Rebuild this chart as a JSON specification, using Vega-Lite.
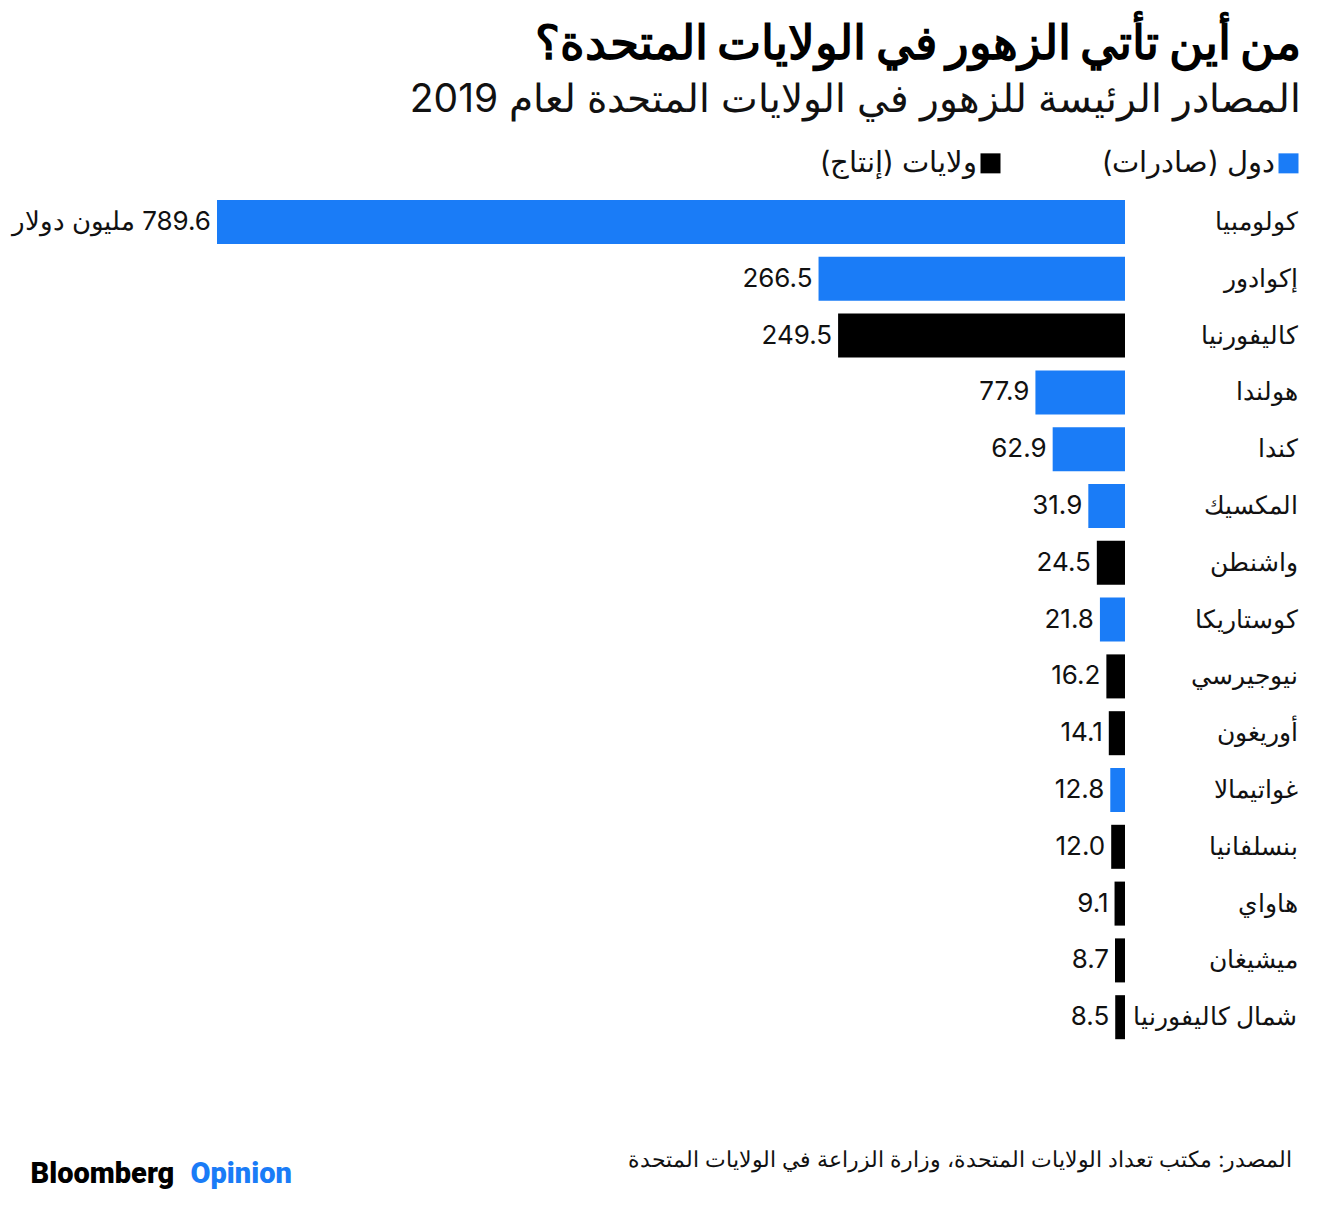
{
  "$schema": "https://vega.github.io/schema/vega-lite/v6.json",
  "width": 908,
  "height": 852,
  "autosize": "none",
  "padding": {"left": 217, "top": 193.6, "right": 201, "bottom": 163.4},
  "background": "white",
  "config": {"view": {"stroke": null}, "font": "Inter"},
  "title": {
    "text": "من أين تأتي الزهور في الولايات المتحدة؟",
    "subtitle": "المصادر الرئيسة للزهور في الولايات المتحدة لعام 2019",
    "anchor": "end",
    "frame": "group",
    "dx": 176,
    "fontSize": 47,
    "fontWeight": 900,
    "color": "#000000",
    "subtitleFontSize": 39,
    "subtitleColor": "#111111",
    "subtitleFontWeight": "normal",
    "subtitlePadding": 12,
    "offset": 28
  },
  "data": {
    "values": [
      {"name": "كولومبيا", "value": 789.6, "type": "دول (صادرات)\u200F", "label": "\u200F789.6 مليون دولار"},
      {"name": "إكوادور", "value": 266.5, "type": "دول (صادرات)\u200F", "label": "266.5"},
      {"name": "كاليفورنيا", "value": 249.5, "type": "ولايات (إنتاج)\u200F", "label": "249.5"},
      {"name": "هولندا", "value": 77.9, "type": "دول (صادرات)\u200F", "label": "77.9"},
      {"name": "كندا", "value": 62.9, "type": "دول (صادرات)\u200F", "label": "62.9"},
      {"name": "المكسيك", "value": 31.9, "type": "دول (صادرات)\u200F", "label": "31.9"},
      {"name": "واشنطن", "value": 24.5, "type": "ولايات (إنتاج)\u200F", "label": "24.5"},
      {"name": "كوستاريكا", "value": 21.8, "type": "دول (صادرات)\u200F", "label": "21.8"},
      {"name": "نيوجيرسي", "value": 16.2, "type": "ولايات (إنتاج)\u200F", "label": "16.2"},
      {"name": "أوريغون", "value": 14.1, "type": "ولايات (إنتاج)\u200F", "label": "14.1"},
      {"name": "غواتيمالا", "value": 12.8, "type": "دول (صادرات)\u200F", "label": "12.8"},
      {"name": "بنسلفانيا", "value": 12.0, "type": "ولايات (إنتاج)\u200F", "label": "12.0"},
      {"name": "هاواي", "value": 9.1, "type": "ولايات (إنتاج)\u200F", "label": "9.1"},
      {"name": "ميشيغان", "value": 8.7, "type": "ولايات (إنتاج)\u200F", "label": "8.7"},
      {"name": "شمال كاليفورنيا", "value": 8.5, "type": "ولايات (إنتاج)\u200F", "label": "8.5"}
    ]
  },
  "layer": [
    {
      "mark": {"type": "bar"},
      "encoding": {
        "y": {
          "field": "name",
          "type": "nominal",
          "sort": {"field": "value", "order": "descending"},
          "scale": {"paddingInner": 0.225, "paddingOuter": 0.1125},
          "axis": {
            "orient": "right",
            "title": null,
            "domain": false,
            "ticks": false,
            "labelAlign": "right",
            "labelPadding": 172,
            "labelFontSize": 25,
            "labelColor": "#111111",
            "labelFont": "Noto Sans"
          }
        },
        "x": {
          "field": "value",
          "type": "quantitative",
          "scale": {"domain": [0, 789.6], "reverse": true, "nice": false, "zero": true},
          "axis": {
            "orient": "bottom",
            "labels": false,
            "ticks": false,
            "domain": false,
            "grid": false,
            "title": "المصدر: مكتب تعداد الولايات المتحدة، وزارة الزراعة في الولايات المتحدة",
            "titleFontSize": 21.5,
            "titleFontWeight": "normal",
            "titleColor": "#111111",
            "titleAlign": "right",
            "titleAnchor": null,
            "titleBaseline": "alphabetic",
            "titleX": 1075,
            "titleY": 121
          }
        },
        "color": {
          "field": "type",
          "type": "nominal",
          "scale": {
            "domain": ["ولايات (إنتاج)\u200F", "دول (صادرات)\u200F"],
            "range": ["#000000", "#1a7cf7"]
          },
          "legend": {
            "orient": "none",
            "legendX": 759,
            "legendY": -45,
            "direction": "horizontal",
            "title": null,
            "symbolType": "square",
            "symbolSize": 400,
            "symbolStrokeWidth": 0,
            "labelFontSize": 29,
            "labelColor": "#111111",
            "labelAlign": "right",
            "labelOffset": -28,
            "columnPadding": 100,
            "labelLimit": 400
          }
        }
      }
    },
    {
      "mark": {"type": "text", "align": "right", "baseline": "middle", "dx": -6, "fontSize": 26, "color": "#111111"},
      "encoding": {
        "y": {
          "field": "name",
          "type": "nominal",
          "sort": {"field": "value", "order": "descending"},
          "axis": {
            "orient": "left",
            "labels": false,
            "ticks": false,
            "domain": false,
            "title": "Opinion",
            "titleAngle": 0,
            "titleFontSize": 29,
            "titleFontWeight": 900,
            "titleFont": "Roboto",
            "titleColor": "#1a7cf7",
            "titleAlign": "left",
            "titleBaseline": "alphabetic",
            "titleX": -27,
            "titleY": 989
          }
        },
        "x": {
          "field": "value",
          "type": "quantitative",
          "axis": {
            "orient": "bottom",
            "labels": false,
            "ticks": false,
            "domain": false,
            "grid": false,
            "title": "Bloomberg",
            "titleFontSize": 29,
            "titleFontWeight": 900,
            "titleFont": "Roboto",
            "titleColor": "#000000",
            "titleAlign": "left",
            "titleBaseline": "alphabetic",
            "titleX": -187,
            "titleY": 137
          }
        },
        "text": {"field": "label"}
      }
    }
  ],
  "resolve": {"axis": {"x": "independent", "y": "independent"}}
}
